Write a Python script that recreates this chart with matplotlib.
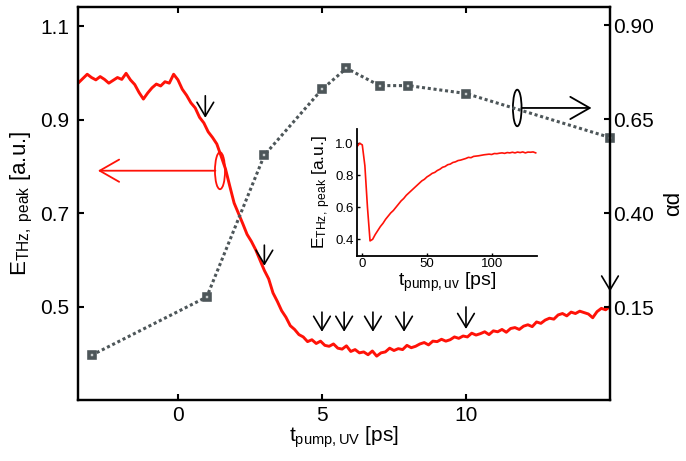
import numpy as np
import matplotlib
matplotlib.use('Agg')
import matplotlib.pyplot as plt
from matplotlib.patches import Ellipse

plt.rcParams['font.family'] = ['Liberation Sans', 'DejaVu Sans']
plt.rcParams['mathtext.fontset'] = 'custom'
plt.rcParams['mathtext.rm'] = 'Liberation Sans'
plt.rcParams['mathtext.it'] = 'Liberation Sans:italic'

# main transient, E_THz peak vs pump delay (sampled every 0.15 ps from -3.45 ps)
t_start = -3.45
t_step = 0.15
e_peak = [0.979, 0.988, 0.997, 0.990, 0.985, 0.992, 0.986, 0.978, 0.984, 0.990,
          0.986, 0.999, 0.985, 0.975, 0.958, 0.944, 0.957, 0.968, 0.976, 0.972,
          0.981, 0.978, 0.997, 0.985, 0.965, 0.952, 0.936, 0.925, 0.905, 0.893,
          0.874, 0.862, 0.848, 0.822, 0.795, 0.758, 0.722, 0.700, 0.678, 0.655,
          0.640, 0.622, 0.600, 0.578, 0.560, 0.530, 0.512, 0.492, 0.478, 0.460,
          0.452, 0.441, 0.436, 0.426, 0.430, 0.422, 0.427, 0.418, 0.416, 0.421,
          0.412, 0.410, 0.417, 0.405, 0.409, 0.402, 0.404, 0.398, 0.406, 0.395,
          0.402, 0.404, 0.412, 0.407, 0.411, 0.409, 0.418, 0.413, 0.416, 0.421,
          0.424, 0.419, 0.427, 0.426, 0.431, 0.427, 0.430, 0.436, 0.433, 0.438,
          0.436, 0.444, 0.440, 0.443, 0.447, 0.441, 0.449, 0.447, 0.452, 0.446,
          0.454, 0.456, 0.452, 0.459, 0.462, 0.458, 0.468, 0.465, 0.472, 0.476,
          0.474, 0.483, 0.486, 0.481, 0.489, 0.486, 0.491, 0.488, 0.485, 0.477,
          0.490, 0.497, 0.494, 0.501]

# alpha*d points (right axis)
ad_t = [-3.0, 1.0, 3.0, 5.0, 5.85, 7.0, 8.0, 10.0, 15.0]
ad_val = [0.022, 0.177, 0.554, 0.729, 0.785, 0.739, 0.739, 0.718, 0.601]

# arrows marking the measured delays (left axis units)
arrow_t = [0.95, 3.0, 5.0, 5.77, 6.77, 7.85, 10.0, 15.0]
arrow_tail = [0.951, 0.632, 0.489, 0.489, 0.489, 0.489, 0.500, 0.558]
arrow_tip = [0.904, 0.588, 0.447, 0.447, 0.447, 0.447, 0.453, 0.533]

# inset: long scan, sampled every 2 ps from -4 ps
in_start = -4.0
in_step = 2.0
in_peak = [0.98, 1.00, 0.99, 0.86, 0.60, 0.39, 0.40, 0.43, 0.455, 0.48,
           0.50, 0.525, 0.545, 0.565, 0.58, 0.60, 0.62, 0.64, 0.655, 0.675,
           0.69, 0.705, 0.72, 0.735, 0.75, 0.765, 0.775, 0.79, 0.80, 0.812,
           0.818, 0.83, 0.838, 0.85, 0.855, 0.866, 0.87, 0.88, 0.884, 0.892,
           0.895, 0.90, 0.905, 0.912, 0.91, 0.918, 0.92, 0.922, 0.925, 0.928,
           0.93, 0.932, 0.93, 0.936, 0.935, 0.938, 0.94, 0.937, 0.942, 0.94,
           0.944, 0.94, 0.945, 0.942, 0.946, 0.94, 0.945, 0.944, 0.946, 0.94]

t_main = t_start + t_step * np.arange(len(e_peak))
t_in = in_start + in_step * np.arange(len(in_peak))

fig = plt.figure(figsize=(6.86, 4.61), dpi=100)
ax = fig.add_axes([0.1137, 0.1323, 0.7755, 0.8525])
ax2 = ax.twinx()

red = '#ff1208'
ax.plot(t_main, e_peak, color=red, lw=2.1)
ax.set_xlim(-3.47, 15.0)
ax.set_ylim(0.3013, 1.1406)
ax.set_xticks([0, 5, 10])
ax.set_yticks([0.5, 0.7, 0.9, 1.1])
ax.set_yticklabels(['0.5', '0.7', '0.9', '1.1'])
ax.tick_params(direction='in', length=4, width=1.5, labelsize=15, top=True)
ax.tick_params(axis='y', pad=6)
ax.tick_params(axis='x', pad=4)
ax.set_xlabel(r'$\mathrm{t_{pump,UV}}$ [ps]', fontsize=15, labelpad=0)
ax.set_ylabel(r'$\mathrm{E_{THz,\ peak}}$ [a.u.]', fontsize=16, labelpad=4)

gray = '#4d5659'
ax2.plot(ad_t, ad_val, color=gray, lw=2.2, linestyle=(0, (1, 0.9)),
         marker='s', ms=5, mew=2.6, mfc='#c9cdce', mec=gray, clip_on=False)
ax2.set_ylim(-0.097, 0.948)
ax2.set_yticks([0.15, 0.40, 0.65, 0.90])
ax2.set_yticklabels(['0.15', '0.40', '0.65', '0.90'])
ax2.tick_params(direction='in', length=4, width=1.5, labelsize=15, pad=2)
ax2.set_ylabel('αd', fontsize=16, labelpad=7)

for sp in list(ax.spines.values()) + list(ax2.spines.values()):
    sp.set_linewidth(1.6)

# down arrows
for t, y0, y1 in zip(arrow_t, arrow_tail, arrow_tip):
    ax2.annotate('', xy=(t, y1), xytext=(t, y0),
                 xycoords=ax.transData, textcoords=ax.transData,
                 arrowprops=dict(arrowstyle='->,head_length=1.0,head_width=0.6',
                                 color='k', lw=1.2, shrinkA=0, shrinkB=0))

# curve labels: ellipse + arrow
ax2.add_patch(Ellipse((1.46, 0.791), 0.35, 0.079, transform=ax.transData,
                      fill=False, ec=red, lw=1.3))
ax2.annotate('', xy=(-2.78, 0.791), xytext=(1.3, 0.791),
             xycoords=ax.transData, textcoords=ax.transData,
             arrowprops=dict(arrowstyle='->,head_length=1.4,head_width=0.8',
                             color=red, lw=1.3, shrinkA=0, shrinkB=0))
ax2.add_patch(Ellipse((11.78, 0.925), 0.30, 0.078, transform=ax.transData,
                      fill=False, ec='k', lw=1.3))
ax2.annotate('', xy=(14.36, 0.925), xytext=(11.93, 0.925),
             xycoords=ax.transData, textcoords=ax.transData,
             arrowprops=dict(arrowstyle='->,head_length=1.4,head_width=0.8',
                             color='k', lw=1.3, shrinkA=0, shrinkB=0))

# inset
axi = fig.add_axes([0.52, 0.4453, 0.2624, 0.2748])
axi.patch.set_alpha(0)
axi.plot(t_in, in_peak, color=red, lw=1.2)
axi.set_xlim(-4.3, 134.8)
axi.set_ylim(0.2975, 1.089)
axi.set_xticks([0, 50, 100])
axi.set_yticks([0.4, 0.6, 0.8, 1.0])
axi.set_yticklabels(['0.4', '0.6', '0.8', '1.0'])
axi.spines['top'].set_visible(False)
axi.spines['right'].set_visible(False)
axi.spines['left'].set_linewidth(1.3)
axi.spines['bottom'].set_linewidth(1.3)
axi.tick_params(direction='in', length=2.5, width=1, labelsize=9.5, pad=2)
axi.set_xlabel(r'$\mathrm{t_{pump,uv}}$ [ps]', fontsize=14, labelpad=0)
axi.set_ylabel(r'$\mathrm{E_{THz,\ peak}}$ [a.u.]', fontsize=12.5, labelpad=2)

fig.savefig('out.png', dpi=100)
